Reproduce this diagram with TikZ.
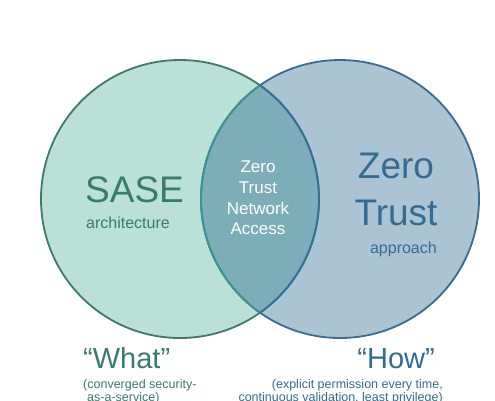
\documentclass[tikz,border=0pt]{standalone}
\usepackage{fontspec}
\setmainfont{Liberation Sans}
\definecolor{saseFill}{RGB}{186,224,215}
\definecolor{saseLine}{RGB}{62,122,104}
\definecolor{saseText}{RGB}{58,124,106}
\definecolor{ztFill}{RGB}{170,196,212}
\definecolor{ztLine}{RGB}{56,108,148}
\definecolor{ztText}{RGB}{52,108,144}
\definecolor{lensFill}{RGB}{126,173,186}
\definecolor{lensLeft}{RGB}{58,150,142}
\definecolor{lensRight}{RGB}{52,112,150}
\tikzset{
    bigword/.style={inner sep=0pt, font=\fontsize{37}{40}\selectfont},
    smallword/.style={inner sep=0pt, font=\fontsize{16}{18}\selectfont},
    lensword/.style={inner sep=0pt, align=center, text=white, font=\fontsize{17}{20.7}\selectfont},
    quoteword/.style={inner sep=0pt, font=\fontsize{29}{31}\selectfont},
    noteword/.style={inner sep=0pt, font=\fontsize{12.5}{13.5}\selectfont},
    ring/.style={line width=1.8pt},
}

\begin{document}
\begin{tikzpicture}[x=1pt, y=-1pt]

    \useasboundingbox[fill=white] (0,0) rectangle (495,400);

    % Circles
    \coordinate (sase_c) at (180,199);
    \coordinate (zt_c) at (340,199);
    \fill[saseFill] (sase_c) circle[radius=139pt];
    \fill[ztFill] (zt_c) circle[radius=139pt];
    \begin{scope}
        \clip (sase_c) circle[radius=139pt];
        \fill[lensFill] (zt_c) circle[radius=139pt];
    \end{scope}
    \draw[ring, saseLine] (sase_c) circle[radius=139pt];
    \draw[ring, ztLine] (zt_c) circle[radius=139pt];

    % Lens borders
    \begin{scope}
        \clip (sase_c) circle[radius=139pt];
        \draw[ring, lensLeft] (zt_c) circle[radius=139pt];
    \end{scope}
    \begin{scope}
        \clip (zt_c) circle[radius=139pt];
        \draw[ring, lensRight] (sase_c) circle[radius=139pt];
    \end{scope}

    % SASE side
    \node[bigword, text=saseText, anchor=base west] (sase) at (85,202) {SASE};
    \node[smallword, text=saseText, anchor=base west] (sase_sub) at (86,228) {architecture};

    % Zero Trust side
    \node[bigword, text=ztText, anchor=base] (zt_zero) at (396,178) {Zero};
    \node[bigword, text=ztText, anchor=base] (zt_trust) at (396,225) {Trust};
    \node[smallword, text=ztText, anchor=base east] (zt_sub) at (437,253) {approach};

    % Overlap
    \node[lensword] (ztna) at (258,198) {Zero\\Trust\\Network\\Access};

    % Labels below
    \node[quoteword, text=saseText, anchor=base west] (what) at (83,368) {“What”};
    \node[noteword, text=saseText, anchor=base west] (what_l1) at (83,388) {(converged security-};
    \node[noteword, text=saseText, anchor=base west] (what_l2) at (87,401) {as-a-service)};

    \node[quoteword, text=ztText, anchor=base east] (how) at (435,368) {“How”};
    \node[noteword, text=ztText, anchor=base east] (how_l1) at (443,388) {(explicit permission every time,};
    \node[noteword, text=ztText, anchor=base east] (how_l2) at (443,401) {continuous validation, least privilege)};

\end{tikzpicture}
\end{document}
